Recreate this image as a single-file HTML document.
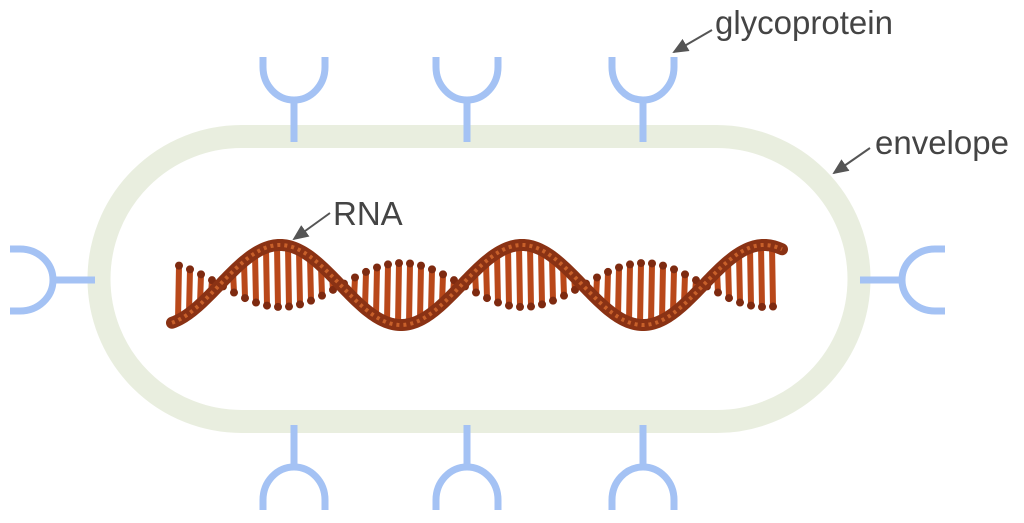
<!DOCTYPE html>
<html><head><meta charset="utf-8"><style>
html,body{margin:0;padding:0;background:#fff;width:1024px;height:523px;overflow:hidden}
svg{display:block}
text{font-family:"Liberation Sans",sans-serif;fill:#444;font-size:33px}
</style></head><body>
<svg id="s" width="1024" height="523" viewBox="0 0 1024 523">
<defs>
<marker id="ah" markerWidth="16" markerHeight="14" refX="14" refY="7" orient="auto" markerUnits="userSpaceOnUse">
<path d="M0,0 L16,7 L0,14 Z" fill="#555"/></marker>
<g id="gp" fill="none" stroke="#a4c2f4" stroke-width="7">
<path d="M-31,0 L-31,10 A31,33 0 0 0 31,10 L31,0"/>
<line x1="0" y1="43" x2="0" y2="85"/>
</g>
</defs>
<rect x="99" y="136.5" width="760" height="285" rx="142.5" fill="#fff" stroke="#e9eedf" stroke-width="23"/>
<use href="#gp" transform="translate(294,57)"/>
<use href="#gp" transform="translate(467,57)"/>
<use href="#gp" transform="translate(643,57)"/>
<use href="#gp" transform="translate(294,510) scale(1,-1)"/>
<use href="#gp" transform="translate(467,510) scale(1,-1)"/>
<use href="#gp" transform="translate(643,510) scale(1,-1)"/>
<use href="#gp" transform="translate(10,280) rotate(-90)"/>
<use href="#gp" transform="translate(945,280) rotate(90)"/>
<g id="rna"></g>
<line x1="712" y1="30" x2="674" y2="52" stroke="#555" stroke-width="2" marker-end="url(#ah)"/>
<line x1="870" y1="148" x2="834" y2="173" stroke="#555" stroke-width="2" marker-end="url(#ah)"/>
<line x1="330" y1="213" x2="294" y2="239" stroke="#555" stroke-width="2" marker-end="url(#ah)"/>
<text x="715" y="34">glycoprotein</text>
<text x="875" y="154">envelope</text>
<text x="333" y="225">RNA</text>
</svg>
<script>
var g=document.getElementById('rna'),P=242,ph=280;
function yb(x){return 285-40*Math.cos(2*Math.PI*(x-ph)/P);}
var s='';
for(var x=178;x<=780;x+=11){var th=2*Math.PI*(x-ph)/P;var y=yb(x);var e=285+22*Math.cos(th);
s+='<line x1="'+x+'" y1="'+y+'" x2="'+(x+1)+'" y2="'+e+'" stroke="#b9481a" stroke-width="6" stroke-linecap="round"/>';
s+='<circle cx="'+(x+1)+'" cy="'+e+'" r="4" fill="#7e2a10"/>';}
var d='M172,'+yb(172);for(var x=174;x<=782;x+=2)d+=' L'+x+','+yb(x);
s+='<path d="'+d+'" fill="none" stroke="#8a3214" stroke-width="12" stroke-linecap="round"/>';
s+='<path d="'+d+'" fill="none" stroke="#c8602a" stroke-width="4" stroke-dasharray="3 4"/>';
g.innerHTML=s;
</script>
</body></html>
